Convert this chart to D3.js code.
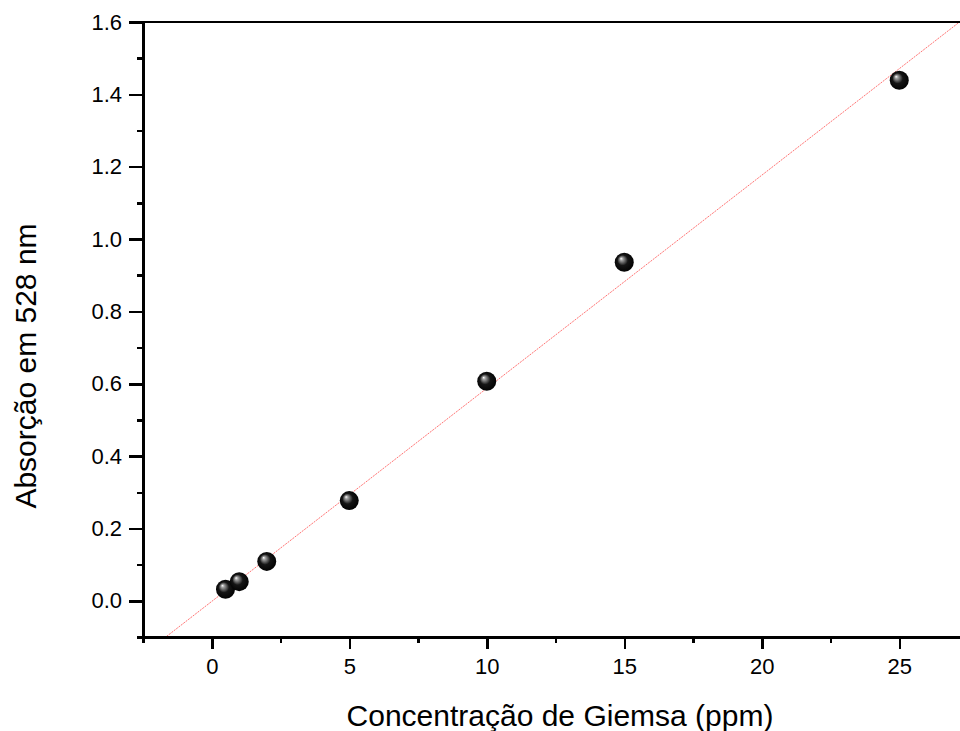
<!DOCTYPE html>
<html lang="en">
<head>
<meta charset="utf-8">
<title>Giemsa</title>
<script src="https://cdn.jsdelivr.net/npm/d3@7"></script>
<style>
  body { margin: 0; background: #fff; }
  .axis path, .axis line { stroke: #000; stroke-width: 2.5; fill: none; shape-rendering: crispEdges; }
  .title { font-family: "Liberation Sans", Arial, sans-serif; font-size: 30px; fill: #000; }
</style>
</head>
<body>
<script>
// data
var conc = [0.5, 1, 2, 5, 10, 15, 25];
var absorb = [0.032, 0.053, 0.109, 0.277, 0.607, 0.936, 1.439];
// linear fit line (slope, intercept)
var fit = [0.0589, -0.0016];
var xTicks = [0, 5, 10, 15, 20, 25];
var yTicks = [0.0, 0.2, 0.4, 0.6, 0.8, 1.0, 1.2, 1.4, 1.6];

var w = 960, h = 731;
var padLeft = 143, padTop = 22, padBottom = 637, padRight = 990;

var x = d3.scaleLinear().domain([-2.5, 28.3]).range([padLeft, padRight]);
var y = d3.scaleLinear().domain([-0.1, 1.6]).range([padBottom, padTop]);

var svg = d3.select("body").append("svg").attr("width", w).attr("height", h);

var defs = svg.append("defs");
var grad = defs.append("radialGradient").attr("id", "ball")
  .attr("cx", "0.5").attr("cy", "0.5").attr("r", "0.55")
  .attr("fx", "0.33").attr("fy", "0.3");
grad.append("stop").attr("offset", "0%").attr("stop-color", "#ffffff");
grad.append("stop").attr("offset", "15%").attr("stop-color", "#a0a0a0");
grad.append("stop").attr("offset", "50%").attr("stop-color", "#151515");
grad.append("stop").attr("offset", "100%").attr("stop-color", "#000");

svg.append("clipPath").attr("id", "area").append("rect")
  .attr("x", padLeft).attr("y", padTop).attr("width", padRight - padLeft).attr("height", padBottom - padTop);

// fit line
var x0 = -2.5, x1 = 28.3;
svg.append("line")
  .attr("clip-path", "url(#area)")
  .attr("x1", x(x0)).attr("y1", y(fit[0] * x0 + fit[1]))
  .attr("x2", x(x1)).attr("y2", y(fit[0] * x1 + fit[1]))
  .attr("stroke", "#ff3030").attr("stroke-width", 0.9)
  .attr("stroke-dasharray", "2,1").attr("opacity", 0.75);

// points
svg.selectAll("circle.pt")
  .data(conc)
  .enter()
  .append("circle")
  .attr("class", "pt")
  .attr("cx", function(d) { return x(d); })
  .attr("cy", function(d, i) { return y(absorb[i]); })
  .attr("r", 9.5)
  .attr("fill", "url(#ball)");

// axes
var xAxis = d3.axisBottom(x).tickValues(xTicks).tickSize(12).tickSizeOuter(0).tickFormat(d3.format("d"));
var xMinor = d3.axisBottom(x).tickValues([-2.5, 2.5, 7.5, 12.5, 17.5, 22.5, 27.5]).tickSize(6).tickSizeOuter(0).tickFormat("");
var yAxis = d3.axisLeft(y).tickValues(yTicks).tickSize(14).tickSizeOuter(0).tickFormat(d3.format(".1f"));
var yMinor = d3.axisLeft(y).tickValues([-0.1, 0.1, 0.3, 0.5, 0.7, 0.9, 1.1, 1.3, 1.5]).tickSize(6).tickSizeOuter(0).tickFormat("");

svg.append("g").attr("class", "axis").attr("transform", "translate(0," + padBottom + ")").call(xMinor);
svg.append("g").attr("class", "axis").attr("transform", "translate(0," + padBottom + ")").call(xAxis)
  .attr("font-family", "Liberation Sans, Arial, sans-serif").attr("font-size", 22)
  .selectAll("text").attr("y", 21).attr("dy", "0.71em").attr("fill", "#000");
svg.append("g").attr("class", "axis").attr("transform", "translate(" + padLeft + ",0)").call(yMinor);
svg.append("g").attr("class", "axis").attr("transform", "translate(" + padLeft + ",0)").call(yAxis)
  .attr("font-family", "Liberation Sans, Arial, sans-serif").attr("font-size", 22)
  .selectAll("text").attr("x", -21).attr("fill", "#000");

// top border
svg.append("line").attr("x1", padLeft).attr("x2", w).attr("y1", padTop).attr("y2", padTop)
  .attr("stroke", "#000").attr("stroke-width", 2.5).attr("shape-rendering", "crispEdges");

// titles
svg.append("text").attr("class", "title").attr("text-anchor", "middle")
  .attr("x", 560).attr("y", 726).text("Concentração de Giemsa (ppm)");
svg.append("text").attr("class", "title").attr("text-anchor", "middle")
  .attr("transform", "translate(36,366) rotate(-90)").text("Absorção em 528 nm");
</script>
</body>
</html>
